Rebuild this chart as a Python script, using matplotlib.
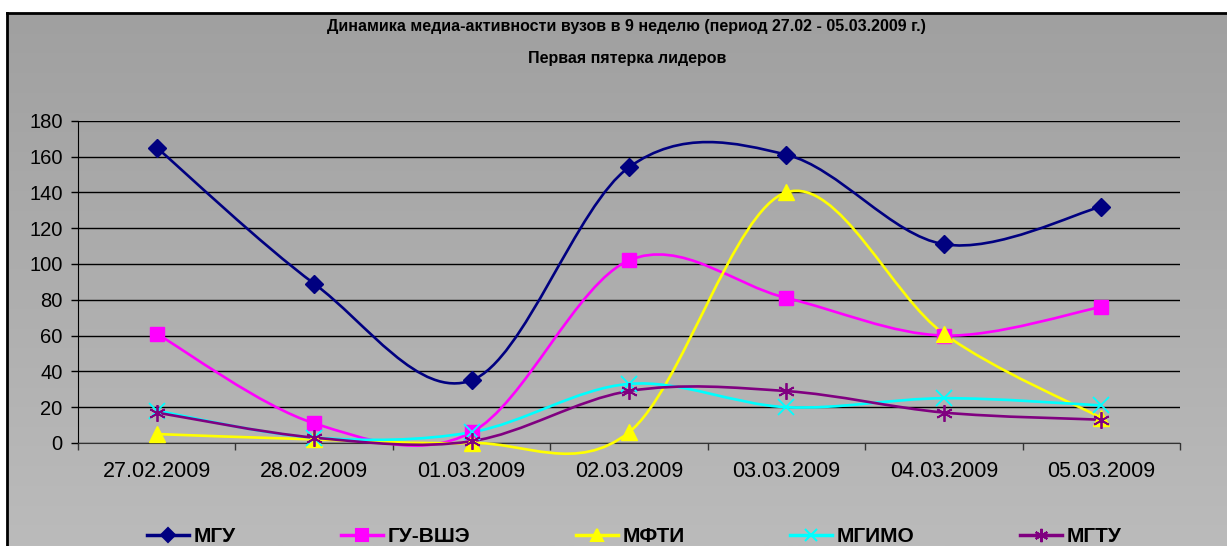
import numpy as np
import matplotlib
matplotlib.use('Agg')
import matplotlib.pyplot as plt
from matplotlib.path import Path
from matplotlib.patches import PathPatch
from matplotlib.lines import Line2D

plt.rcParams['font.family'] = ['Liberation Sans', 'DejaVu Sans']

dates = ['27.02.2009', '28.02.2009', '01.03.2009', '02.03.2009',
         '03.03.2009', '04.03.2009', '05.03.2009']
mgu = [165, 89, 35, 154, 161, 111, 132]
hse = [61, 11, 6, 102, 81, 60, 76]
mfti = [5, 2, 0, 6, 140, 61, 14]
mgimo = [18, 3, 6, 33, 20, 25, 21]
mgtu = [17, 3, 1, 29, 29, 17, 13]

names = ['МГУ', 'ГУ-ВШЭ', 'МФТИ', 'МГИМО', 'МГТУ']
colors = ['#000080', '#FF00FF', '#FFFF00', '#00FFFF', '#800080']
markers = ['D', 's', '^', 'x', (6, 2, 0)]
msizes = [9, 10, 11, 11, 12]
series = [mgu, hse, mfti, mgimo, mgtu]


def smooth_path(xs, ys):
    # excel-like smoothed line: catmull-rom turned into cubic bezier pieces
    pts = np.column_stack([xs, ys]).astype(float)
    n = len(pts)
    verts = [pts[0]]
    codes = [Path.MOVETO]
    for i in range(n - 1):
        p0 = pts[max(i - 1, 0)]
        p1 = pts[i]
        p2 = pts[i + 1]
        p3 = pts[min(i + 2, n - 1)]
        verts += [p1 + (p2 - p0) / 6, p2 - (p3 - p1) / 6, p2]
        codes += [Path.CURVE4] * 3
    return Path(verts, codes)


W, H = 1227, 546
fig = plt.figure(figsize=(W / 100, H / 100), dpi=100)
fig.patch.set_facecolor('white')

# gray chart area with gradient
bg = fig.add_axes([7 / W, 0, 1 - 7 / W, 1 - 13 / H], zorder=0)
grad = np.linspace(0, 1, 256).reshape(-1, 1)
bg.imshow(grad, aspect='auto', cmap=matplotlib.colors.LinearSegmentedColormap.from_list(
    'g', ['#A0A0A0', '#BBBBBB']), extent=[0, 1, 0, 1], origin='upper')
bg.set_axis_off()
fig.add_artist(Line2D([7 / W, 7 / W], [0, 1 - 13 / H], color='black', lw=2))
fig.add_artist(Line2D([7 / W, 1], [1 - 13 / H, 1 - 13 / H], color='black', lw=2))

ax = fig.add_axes([78 / W, 1 - 443 / H, (1180 - 78) / W, (443 - 120.7) / H], zorder=2)
ax.set_facecolor('none')
x = np.arange(len(dates))

for vals, name, c, m, ms in zip(series, names, colors, markers, msizes):
    ax.add_patch(PathPatch(smooth_path(x, vals), facecolor='none', edgecolor=c,
                           lw=1.9, clip_on=False, zorder=3))
    ax.plot(x, vals, linestyle='none', marker=m, color=c, markersize=ms,
            markeredgewidth=1.3 if m in ('x',) or isinstance(m, tuple) else 1,
            clip_on=False, zorder=4)

ax.set_xlim(-0.5, 6.5)
ax.set_ylim(0, 180)
ax.set_yticks(np.arange(0, 181, 20))
ax.yaxis.grid(True, color='black', lw=1)
ax.set_axisbelow(True)
ax.set_xticks(np.arange(-0.5, 7, 1))
ax.set_xticklabels([])
ax.set_xticks(x, minor=True)
ax.set_xticklabels(dates, minor=True)
ax.tick_params(axis='x', which='major', length=5, width=1, color='#333333')
ax.tick_params(axis='x', which='minor', length=0, pad=13, labelsize=15.5)
ax.tick_params(axis='y', length=5, width=1, pad=6, labelsize=14.5)
for s in ['top', 'right']:
    ax.spines[s].set_visible(False)
ax.spines['left'].set_color('black')
ax.spines['bottom'].set_color('#333333')

fig.text(0.5105, 1 - 27 / H,
         'Динамика медиа-активности вузов в 9 неделю (период 27.02 - 05.03.2009 г.)',
         ha='center', va='center', fontsize=11.5, fontweight='bold')
fig.text(0.5115, 1 - 58 / H, 'Первая пятерка лидеров',
         ha='center', va='center', fontsize=11.5, fontweight='bold')

handles = [Line2D([], [], color=c, marker=m, markersize=ms * 0.8, lw=2.5,
                  markeredgewidth=1.5) for c, m, ms in zip(colors, markers, msizes)]
fig.legend(handles, names, loc='center', bbox_to_anchor=(0.517, 1 - 537 / H), ncol=5,
           frameon=False, handlelength=2.0, handletextpad=0.25, columnspacing=5.05,
           prop={'size': 15, 'weight': 'bold'})

fig.savefig('out.png', dpi=100)
